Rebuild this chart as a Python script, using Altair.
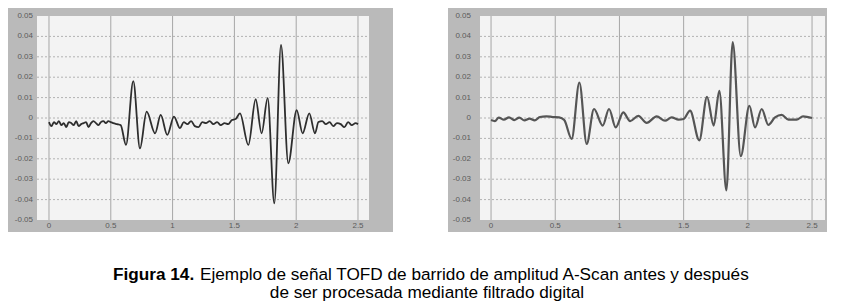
import altair as alt
import pandas as pd

# ---------------- data ----------------
before_t = [0.00, 0.02, 0.04, 0.06, 0.08, 0.10, 0.12, 0.14, 0.16, 0.18, 0.20, 0.22, 0.24,
            0.26, 0.28, 0.30, 0.32, 0.34, 0.36, 0.38, 0.40, 0.42, 0.44, 0.46, 0.48, 0.50,
            0.52, 0.55, 0.58, 0.623, 0.682, 0.736, 0.79, 0.858, 0.904, 0.957, 1.011, 1.06,
            1.09, 1.12, 1.15, 1.18, 1.21, 1.24, 1.27, 1.30, 1.33, 1.36, 1.39, 1.42, 1.45,
            1.48, 1.51, 1.545, 1.613, 1.672, 1.72, 1.769, 1.823, 1.877, 1.936, 2.004, 2.052,
            2.106, 2.152, 2.18, 2.21, 2.24, 2.27, 2.30, 2.33, 2.36, 2.39, 2.42, 2.45, 2.48, 2.50]
before_a = [-0.002, -0.004, -0.002, -0.003, -0.0015, -0.0035, -0.0025, -0.0045, -0.002,
            -0.0025, -0.0035, -0.0015, -0.004, -0.003, -0.0025, -0.002, -0.0045, -0.0025,
            -0.0015, -0.0025, -0.0035, -0.002, -0.0015, -0.0025, -0.0015, -0.002, -0.0025,
            -0.003, -0.0035, -0.0132, 0.0181, -0.0149, 0.0031, -0.0075, 0.0015, -0.0083,
            0.0007, -0.005, -0.002, -0.003, -0.0015, -0.004, -0.0045, -0.002, -0.0025,
            -0.0015, -0.003, -0.002, -0.0035, -0.0025, -0.003, -0.001, -0.0005, 0.0023,
            -0.0132, 0.0092, -0.0075, 0.0097, -0.0418, 0.0358, -0.0222, 0.0039, -0.0075,
            0.0023, -0.0075, -0.002, -0.0015, -0.003, -0.002, -0.004, -0.0025, -0.003,
            -0.0045, -0.002, -0.0035, -0.0025, -0.003]

after_t = [0.00, 0.03, 0.06, 0.10, 0.14, 0.18, 0.22, 0.26, 0.30, 0.34, 0.38, 0.43, 0.48,
           0.53, 0.57, 0.628, 0.688, 0.745, 0.802, 0.87, 0.919, 0.971, 1.03, 1.083, 1.147,
           1.212, 1.29, 1.355, 1.407, 1.46, 1.50, 1.55, 1.622, 1.682, 1.734, 1.778, 1.833,
           1.882, 1.945, 2.012, 2.056, 2.108, 2.16, 2.212, 2.264, 2.316, 2.38, 2.43, 2.50]
after_a = [-0.001, -0.0015, 0.0002, -0.0008, 0.0003, -0.001, 0.0002, -0.0012, -0.0003,
           -0.0012, 0.0005, 0.0008, 0.0005, 0.0003, -0.001, -0.0102, 0.0174, -0.0127, 0.0044,
           -0.0037, 0.0044, -0.0046, 0.0028, -0.0015, 0.001, -0.0024, 0.0008, -0.0013,
           0.0003, -0.0008, -0.0005, 0.0036, -0.011, 0.0104, -0.0037, 0.0133, -0.0355,
           0.0372, -0.0187, 0.006, -0.0046, 0.0044, -0.0034, 0.0003, 0.0015, -0.0008,
           -0.0008, 0.0008, 0.0]

x_ticks = [0, 0.5, 1, 1.5, 2, 2.5]
x_tick_labels = ["0", "0.5", "1", "1.5", "2", "2.5"]
y_ticks = [-0.05, -0.04, -0.03, -0.02, -0.01, 0, 0.01, 0.02, 0.03, 0.04, 0.05]
y_tick_labels = ["-0.05", "-0.04", "-0.03", "-0.02", "-0.01", "0",
                 "0.01", "0.02", "0.03", "0.04", "0.05"]
y_grid = [-0.04, -0.03, -0.02, -0.01, 0, 0.01, 0.02, 0.03, 0.04]

caption_bold = "Figura 14."
caption_line1 = "Ejemplo de señal TOFD de barrido de amplitud A-Scan antes y después"
caption_line2 = "de ser procesada mediante filtrado digital"

# ---------------- styling ----------------
FRAME = "#bababa"
PLOT = "#f3f3f3"
VGRID = "#a6a6a6"
HGRID = "#b2b2b2"
LABEL = "#5a5a5a"
FONT = "Liberation Sans"
W, Hc = 838, 293
PLOT_TOP, PLOT_BOT = 8, 212

yscale = alt.Scale(domain=[-0.05, 0.05], range=[PLOT_BOT, PLOT_TOP], nice=False, zero=False)
one = pd.DataFrame({"k": [0]})


def rect(x0, x1, y0, y1, color):
    return alt.Chart(one).mark_rect(color=color).encode(
        x=alt.value(x0), x2=alt.value(x1), y=alt.value(y0), y2=alt.value(y1))


def panel(ts, amps, domain, px0, px1, color, sw, ylab_x):
    xscale = alt.Scale(domain=domain, range=[px0, px1], nice=False, zero=False)
    df = pd.DataFrame({"t": ts, "a": amps})
    vgrid = alt.Chart(pd.DataFrame({"t": x_ticks})).mark_rule(
        color=VGRID, strokeWidth=1).encode(
        x=alt.X("t:Q", scale=xscale, axis=None),
        y=alt.value(PLOT_TOP), y2=alt.value(PLOT_BOT))
    hgrid = alt.Chart(pd.DataFrame({"a": y_grid})).mark_rule(
        color=HGRID, strokeWidth=1, strokeDash=[2, 2]).encode(
        y=alt.Y("a:Q", scale=yscale, axis=None),
        x=alt.value(px0), x2=alt.value(px1))
    line = alt.Chart(df).mark_line(color=color, strokeWidth=sw,
                                   interpolate="monotone").encode(
        x=alt.X("t:Q", scale=xscale, axis=None),
        y=alt.Y("a:Q", scale=yscale, axis=None))
    xlab = alt.Chart(pd.DataFrame({"t": x_ticks, "lab": x_tick_labels})).mark_text(
        font=FONT, fontSize=8, color=LABEL, align="center", baseline="middle").encode(
        x=alt.X("t:Q", scale=xscale, axis=None), y=alt.value(PLOT_BOT + 6),
        text="lab:N")
    ylab = alt.Chart(pd.DataFrame({"a": y_ticks, "lab": y_tick_labels})).mark_text(
        font=FONT, fontSize=8, color=LABEL, align="right", baseline="middle").encode(
        y=alt.Y("a:Q", scale=yscale, axis=None), x=alt.value(ylab_x),
        text="lab:N")
    return alt.layer(vgrid, hgrid, line, xlab, ylab)


backgrounds = alt.layer(
    rect(0, 385, 0, 224, FRAME),
    rect(29, 361, PLOT_TOP, PLOT_BOT, PLOT),
    rect(440, 819, 0, 224, FRAME),
    rect(472, 817, PLOT_TOP, PLOT_BOT, PLOT),
)

left = panel(before_t, before_a, [-0.097, 2.589], 29, 361, "#2e2e2e", 1.8, 25)
right = panel(after_t, after_a, [-0.086, 2.601], 472, 817, "#555555", 2.2, 463)

cap_bold = alt.Chart(one).mark_text(font=FONT, fontWeight="bold", fontSize=17.2,
                                    align="left", baseline="middle", color="#000000").encode(
    x=alt.value(105), y=alt.value(266.5), text=alt.value(caption_bold))
cap_l1 = alt.Chart(one).mark_text(font=FONT, fontSize=17.2, align="left",
                                  baseline="middle", color="#000000").encode(
    x=alt.value(192), y=alt.value(266.5), text=alt.value(caption_line1))
cap_l2 = alt.Chart(one).mark_text(font=FONT, fontSize=17.2, align="center",
                                  baseline="middle", color="#000000").encode(
    x=alt.value(419), y=alt.value(285), text=alt.value(caption_line2))

chart = alt.layer(
    backgrounds, left, right, cap_bold, cap_l1, cap_l2
).resolve_scale(x="independent").properties(
    width=W, height=Hc, padding=0, background="white",
    autosize=alt.AutoSizeParams(type="none"),
).configure_view(stroke=None)

chart.save("out.html", embed_options={"renderer": "svg", "actions": False})
